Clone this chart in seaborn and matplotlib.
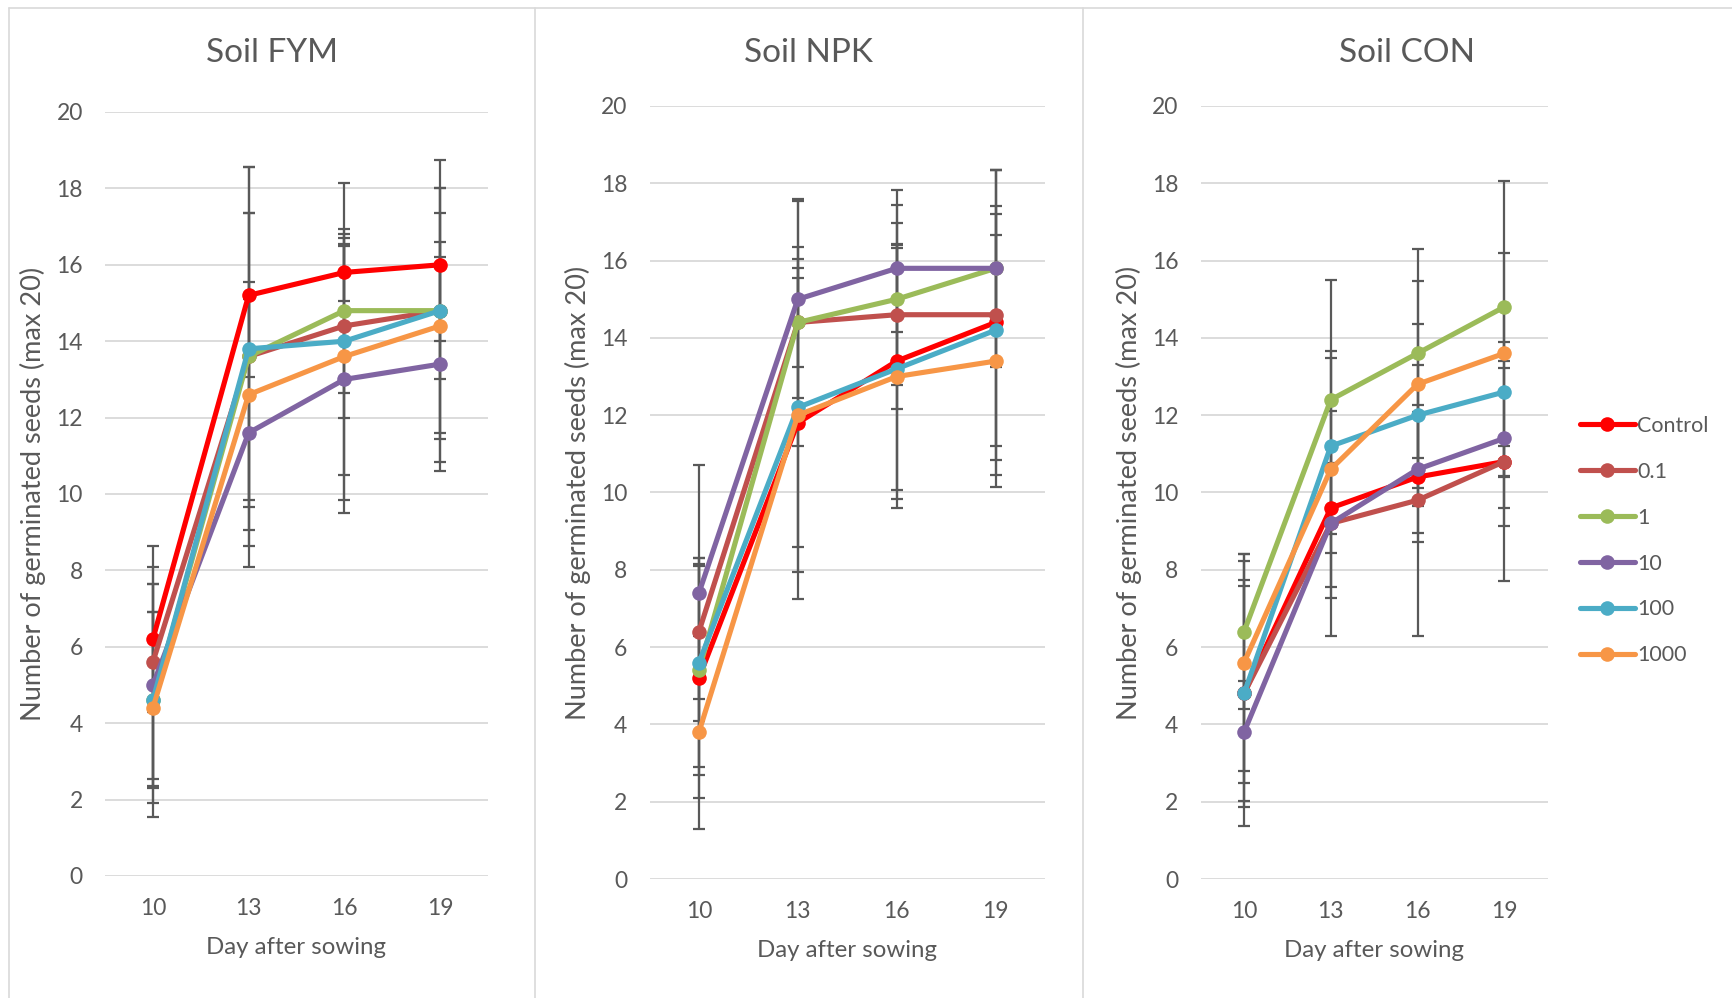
import numpy as np
import pandas as pd
import matplotlib.pyplot as plt
import seaborn as sns
from matplotlib.lines import Line2D

# Germinated seeds per soil, days 10/13/16/19
days = [10, 13, 16, 19]
series = ["Control", "0.1", "1", "10", "100", "1000"]
colors = ["#FF0000", "#C0504D", "#9BBB59", "#8064A2", "#4BACC6", "#F79646"]
soils = ["Soil FYM", "Soil NPK", "Soil CON"]

fym_mean = [[6.2, 15.2, 15.8, 16.0],
            [5.6, 13.6, 14.4, 14.8],
            [4.6, 13.6, 14.8, 14.8],
            [5.0, 11.6, 13.0, 13.4],
            [4.6, 13.8, 14.0, 14.8],
            [4.4, 12.6, 13.6, 14.4]]
fym_sd = [[1.9, 2.15, 0.75, 2.0],
          [3.05, 4.95, 2.4, 3.95],
          [3.05, 3.75, 2.15, 3.2],
          [2.65, 3.5, 3.5, 2.8],
          [2.3, 4.75, 4.15, 1.8],
          [2.5, 2.95, 3.1, 2.95]]

npk_mean = [[5.2, 11.8, 13.4, 14.4],
            [6.4, 14.4, 14.6, 14.6],
            [5.4, 14.4, 15.0, 15.8],
            [7.4, 15.0, 15.8, 15.8],
            [5.6, 12.2, 13.2, 14.2],
            [3.8, 12.0, 13.0, 13.4]]
npk_sd = [[3.1, 4.55, 3.58, 3.95],
          [1.75, 3.2, 1.82, 3.75],
          [2.7, 1.15, 2.83, 2.55],
          [3.3, 2.55, 1.65, 1.6],
          [2.7, 3.6, 3.13, 3.0],
          [2.5, 4.05, 3.4, 3.27]]

con_mean = [[4.8, 9.6, 10.4, 10.8],
            [4.8, 9.2, 9.8, 10.8],
            [6.4, 12.4, 13.6, 14.8],
            [3.8, 9.2, 10.6, 11.4],
            [4.8, 11.2, 12.0, 12.6],
            [5.6, 10.6, 12.8, 13.6]]
con_sd = [[3.42, 1.17, 1.67, 3.1],
          [2.93, 2.9, 3.5, 0.4],
          [2.0, 3.1, 2.7, 1.4],
          [1.31, 1.92, 1.66, 1.81],
          [2.78, 2.28, 2.35, 2.17],
          [2.8, 3.05, 2.68, 4.47]]

means = [fym_mean, npk_mean, con_mean]
sds = [fym_sd, npk_sd, con_sd]

sns.set_theme(style="white")
plt.rcParams['font.family'] = ['Lato', 'DejaVu Sans']
txt = "#595959"

W, H = 1732, 998
fig = plt.figure(figsize=(W / 100, H / 100), dpi=100)

# axes boxes in pixels: left, right, top, bottom
boxes = [(105, 488, 112, 876), (649.5, 1045, 106, 879), (1200.7, 1547.6, 106, 879)]
title_x = [272, 809, 1407]

# panel borders
for xb in [9, 535, 1083]:
    fig.add_artist(Line2D([xb / W, xb / W], [0, 1 - 8 / H], color="#D9D9D9", lw=1.2))
fig.add_artist(Line2D([9 / W, 1], [1 - 8 / H, 1 - 8 / H], color="#D9D9D9", lw=1.2))

for k in range(3):
    l, r, t, b = boxes[k]
    ax = fig.add_axes([l / W, 1 - b / H, (r - l) / W, (b - t) / H])
    rows = []
    for i, s in enumerate(series):
        for j, d in enumerate(days):
            rows.append({"pos": j, "day": d, "series": s,
                         "mean": means[k][i][j], "sd": sds[k][i][j]})
    df = pd.DataFrame(rows)

    for i, s in enumerate(series):
        sub = df[df["series"] == s]
        ax.errorbar(sub["pos"], sub["mean"], yerr=sub["sd"], fmt="none",
                    ecolor=txt, elinewidth=1.6, capsize=4.2, capthick=1.6, zorder=1.5)

    sns.lineplot(data=df, x="pos", y="mean", hue="series", hue_order=series,
                 palette=colors, marker="o", markersize=10.5, markeredgewidth=0,
                 linewidth=3.7, legend=False, ax=ax, zorder=2)

    ax.set_xlim(-0.5, 3.5)
    ax.set_ylim(0, 20)
    ax.set_yticks(range(0, 21, 2))
    ax.set_xticks(range(len(days)))
    ax.set_xticklabels([str(d) for d in days])
    ax.grid(axis="y", color="#D9D9D9", lw=1.3)
    ax.set_axisbelow(True)
    for sp in ax.spines.values():
        sp.set_visible(False)
    ax.tick_params(axis="both", length=0, labelsize=16.5, labelcolor=txt)
    ax.tick_params(axis="y", pad=16)
    ax.tick_params(axis="x", pad=15.5)
    ax.set_xlabel("Day after sowing", fontsize=17.3, color=txt, labelpad=13.5)
    ax.set_ylabel("Number of germinated seeds (max 20)", fontsize=19.5, color=txt, labelpad=7)
    fig.text(title_x[k] / W, 1 - 53 / H, soils[k], ha="center", va="center",
             fontsize=24, color=txt)

    if k == 2:
        handles = [Line2D([0], [0], color=c, lw=3.7, marker="o", markersize=10.5,
                          markeredgewidth=0) for c in colors]
        ax.legend(handles, series, loc="upper left", frameon=False,
                  bbox_to_anchor=(1580 / W, 1 - 416 / H), bbox_transform=fig.transFigure,
                  borderaxespad=0, borderpad=0, fontsize=15.5, labelcolor=txt,
                  handlelength=2.55, handletextpad=0.1, labelspacing=1.2)

fig.savefig("out.png", dpi=100)
